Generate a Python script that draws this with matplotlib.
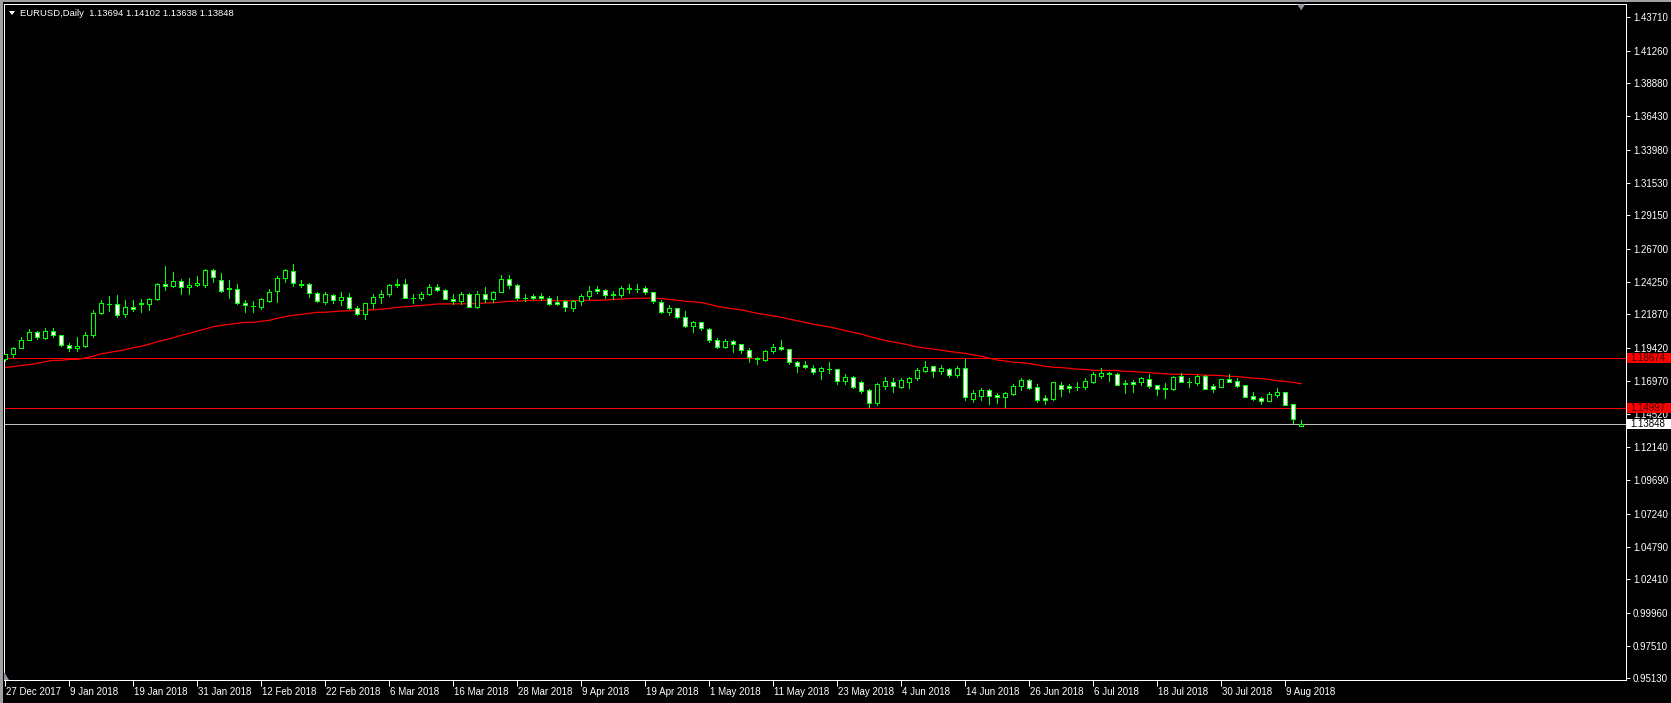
import matplotlib
matplotlib.use("Agg")
import matplotlib.pyplot as plt
import matplotlib.transforms as mtransforms
from matplotlib.patches import Rectangle, Polygon

# EURUSD daily, 27 Dec 2017 .. 13 Aug 2018 (163 bars)
opens = [1.1857, 1.1893, 1.1944, 1.2002, 1.2056, 1.2016, 1.2068, 1.2034, 1.1966, 1.1938,
         1.1954, 1.2034, 1.2195, 1.2262, 1.2262, 1.2188, 1.2240, 1.2264, 1.2262, 1.2298,
         1.2408, 1.2393, 1.2433, 1.2386, 1.2401, 1.2406, 1.2514, 1.2440, 1.2372, 1.2374,
         1.2269, 1.2250, 1.2244, 1.2288, 1.2357, 1.2455, 1.2504, 1.2408, 1.2408, 1.2342,
         1.2281, 1.2328, 1.2294, 1.2318, 1.2234, 1.2192, 1.2268, 1.2317, 1.2337, 1.2404,
         1.2411, 1.2311, 1.2307, 1.2335, 1.2388, 1.2368, 1.2302, 1.2288, 1.2336, 1.2244,
         1.2339, 1.2300, 1.2355, 1.2447, 1.2405, 1.2306, 1.2325, 1.2320, 1.2306, 1.2280,
         1.2283, 1.2237, 1.2283, 1.2320, 1.2371, 1.2364, 1.2332, 1.2327, 1.2375, 1.2377,
         1.2379, 1.2349, 1.2276, 1.2207, 1.2232, 1.2166, 1.2105, 1.2129, 1.2078, 1.1997,
         1.1950, 1.1989, 1.1967, 1.1923, 1.1866, 1.1850, 1.1918, 1.1945, 1.1931, 1.1840,
         1.1813, 1.1796, 1.1771, 1.1788, 1.1784, 1.1700, 1.1725, 1.1688, 1.1632, 1.1539,
         1.1664, 1.1688, 1.1656, 1.1693, 1.1718, 1.1774, 1.1806, 1.1774, 1.1784, 1.1742,
         1.1791, 1.1566, 1.1590, 1.1630, 1.1593, 1.1578, 1.1605, 1.1661, 1.1705, 1.1651,
         1.1573, 1.1563, 1.1666, 1.1661, 1.1655, 1.1656, 1.1693, 1.1737, 1.1753, 1.1749,
         1.1678, 1.1691, 1.1691, 1.1710, 1.1666, 1.1641, 1.1639, 1.1732, 1.1689, 1.1686,
         1.1735, 1.1659, 1.1656, 1.1710, 1.1695, 1.1666, 1.1585, 1.1571, 1.1553, 1.1595,
         1.1617, 1.1529, 1.13694]
highs = [1.1895, 1.1950, 1.2023, 1.2081, 1.2065, 1.2089, 1.2085, 1.2038, 1.1980, 1.2025,
         1.2058, 1.2219, 1.2296, 1.2323, 1.2330, 1.2292, 1.2296, 1.2298, 1.2306, 1.2416,
         1.2541, 1.2501, 1.2447, 1.2453, 1.2472, 1.2522, 1.2520, 1.2495, 1.2439, 1.2411,
         1.2296, 1.2284, 1.2309, 1.2371, 1.2468, 1.2520, 1.2558, 1.2437, 1.2415, 1.2355,
         1.2353, 1.2337, 1.2355, 1.2345, 1.2246, 1.2273, 1.2335, 1.2364, 1.2413, 1.2446,
         1.2446, 1.2335, 1.2351, 1.2409, 1.2413, 1.2377, 1.2336, 1.2354, 1.2348, 1.2357,
         1.2388, 1.2360, 1.2477, 1.2476, 1.2413, 1.2336, 1.2336, 1.2345, 1.2323, 1.2323,
         1.2290, 1.2295, 1.2337, 1.2396, 1.2396, 1.2374, 1.2361, 1.2396, 1.2408, 1.2414,
         1.2396, 1.2353, 1.2296, 1.2255, 1.2238, 1.2211, 1.2138, 1.2132, 1.2085, 1.2013,
         1.2009, 1.1997, 1.1972, 1.1937, 1.1876, 1.1929, 1.1970, 1.1996, 1.1935, 1.1848,
         1.1845, 1.1817, 1.1798, 1.1836, 1.1787, 1.1750, 1.1733, 1.1696, 1.1639, 1.1680,
         1.1724, 1.1720, 1.1719, 1.1725, 1.1797, 1.1845, 1.1810, 1.1813, 1.1797, 1.1808,
         1.1860, 1.1632, 1.1645, 1.1640, 1.1612, 1.1620, 1.1674, 1.1718, 1.1711, 1.1676,
         1.1597, 1.1692, 1.1690, 1.1673, 1.1690, 1.1720, 1.1765, 1.1791, 1.1767, 1.1757,
         1.1705, 1.1705, 1.1730, 1.1749, 1.1672, 1.1686, 1.1735, 1.1754, 1.1718, 1.1739,
         1.1745, 1.1674, 1.1716, 1.1747, 1.1717, 1.1670, 1.1620, 1.1580, 1.1617, 1.1643,
         1.1619, 1.1530, 1.14102]
lows = [1.1846, 1.1878, 1.1940, 1.1998, 1.2003, 1.2005, 1.2022, 1.1956, 1.1915, 1.1917,
        1.1949, 1.2018, 1.2194, 1.2213, 1.2166, 1.2165, 1.2212, 1.2207, 1.2222, 1.2292,
        1.2365, 1.2391, 1.2338, 1.2337, 1.2395, 1.2392, 1.2424, 1.2355, 1.2309, 1.2261,
        1.2206, 1.2205, 1.2230, 1.2277, 1.2277, 1.2426, 1.2395, 1.2387, 1.2318, 1.2281,
        1.2261, 1.2270, 1.2258, 1.2228, 1.2184, 1.2154, 1.2236, 1.2274, 1.2322, 1.2387,
        1.2306, 1.2274, 1.2290, 1.2327, 1.2360, 1.2300, 1.2261, 1.2262, 1.2240, 1.2238,
        1.2279, 1.2281, 1.2350, 1.2385, 1.2295, 1.2284, 1.2300, 1.2291, 1.2257, 1.2255,
        1.2214, 1.2215, 1.2260, 1.2301, 1.2346, 1.2310, 1.2304, 1.2316, 1.2346, 1.2353,
        1.2338, 1.2274, 1.2199, 1.2184, 1.2161, 1.2097, 1.2055, 1.2072, 1.1984, 1.1938,
        1.1940, 1.1911, 1.1904, 1.1838, 1.1823, 1.1845, 1.1901, 1.1923, 1.1821, 1.1763,
        1.1791, 1.1749, 1.1713, 1.1760, 1.1676, 1.1676, 1.1646, 1.1610, 1.1509, 1.1518,
        1.1640, 1.1616, 1.1644, 1.1644, 1.1704, 1.1765, 1.1728, 1.1749, 1.1730, 1.1726,
        1.1562, 1.1542, 1.1560, 1.1530, 1.1536, 1.1508, 1.1594, 1.1633, 1.1638, 1.1541,
        1.1527, 1.1559, 1.1591, 1.1616, 1.1630, 1.1640, 1.1680, 1.1722, 1.1700, 1.1665,
        1.1612, 1.1616, 1.1670, 1.1649, 1.1595, 1.1575, 1.1632, 1.1688, 1.1657, 1.1670,
        1.1637, 1.1620, 1.1653, 1.1688, 1.1653, 1.1577, 1.1555, 1.1530, 1.1548, 1.1582,
        1.1524, 1.1388, 1.13638]
closes = [1.1893, 1.1944, 1.1997, 1.2061, 1.2019, 1.2068, 1.2034, 1.1966, 1.1938, 1.1954,
          1.2034, 1.2195, 1.2268, 1.2264, 1.2181, 1.2240, 1.2225, 1.2268, 1.2298, 1.2408,
          1.2394, 1.2433, 1.2386, 1.2401, 1.2418, 1.2514, 1.2460, 1.2362, 1.2378, 1.2269,
          1.2254, 1.2246, 1.2298, 1.2352, 1.2452, 1.2511, 1.2416, 1.2404, 1.2342, 1.2288,
          1.2335, 1.2294, 1.2318, 1.2234, 1.2192, 1.2268, 1.2317, 1.2337, 1.2404, 1.2411,
          1.2311, 1.2307, 1.2335, 1.2388, 1.2368, 1.2302, 1.2288, 1.2336, 1.2244, 1.2339,
          1.2300, 1.2355, 1.2447, 1.2405, 1.2306, 1.2310, 1.2306, 1.2306, 1.2266, 1.2267,
          1.2242, 1.2283, 1.2320, 1.2357, 1.2358, 1.2327, 1.2335, 1.2379, 1.2378, 1.2375,
          1.2350, 1.2288, 1.2207, 1.2232, 1.2166, 1.2105, 1.2129, 1.2085, 1.1997, 1.1950,
          1.1989, 1.1967, 1.1923, 1.1872, 1.1860, 1.1918, 1.1945, 1.1931, 1.1840, 1.1810,
          1.1798, 1.1766, 1.1791, 1.1785, 1.1700, 1.1725, 1.1651, 1.1627, 1.1539, 1.1673,
          1.1700, 1.1664, 1.1703, 1.1720, 1.1779, 1.1798, 1.1771, 1.1791, 1.1742, 1.1791,
          1.1578, 1.1612, 1.1630, 1.1590, 1.1578, 1.1610, 1.1661, 1.1705, 1.1650, 1.1558,
          1.1555, 1.1690, 1.1641, 1.1644, 1.1657, 1.1698, 1.1749, 1.1757, 1.1755, 1.1668,
          1.1682, 1.1673, 1.1722, 1.1661, 1.1641, 1.1643, 1.1725, 1.1693, 1.1691, 1.1735,
          1.1642, 1.1642, 1.1713, 1.1693, 1.1664, 1.1583, 1.1568, 1.1553, 1.1602, 1.1619,
          1.1525, 1.1416, 1.13848]
# moving average as drawn on the chart
ma = [1.1798, 1.1803, 1.1813, 1.1818, 1.1828, 1.1840, 1.1850, 1.1850, 1.1857, 1.1857,
      1.1867, 1.1881, 1.1898, 1.1908, 1.1918, 1.1928, 1.1943, 1.1953, 1.1968, 1.1987,
      1.2000, 1.2016, 1.2034, 1.2048, 1.2065, 1.2080, 1.2097, 1.2107, 1.2115, 1.2122,
      1.2129, 1.2129, 1.2137, 1.2144, 1.2159, 1.2171, 1.2181, 1.2188, 1.2195, 1.2203,
      1.2203, 1.2208, 1.2212, 1.2214, 1.2215, 1.2218, 1.2221, 1.2226, 1.2231, 1.2239,
      1.2244, 1.2249, 1.2253, 1.2258, 1.2264, 1.2264, 1.2265, 1.2265, 1.2266, 1.2268,
      1.2271, 1.2274, 1.2278, 1.2284, 1.2285, 1.2288, 1.2291, 1.2291, 1.2290, 1.2288,
      1.2287, 1.2288, 1.2290, 1.2291, 1.2291, 1.2293, 1.2298, 1.2300, 1.2304, 1.2306,
      1.2306, 1.2306, 1.2304, 1.2298, 1.2291, 1.2284, 1.2280, 1.2274, 1.2262, 1.2247,
      1.2236, 1.2228, 1.2221, 1.2208, 1.2195, 1.2186, 1.2177, 1.2166, 1.2153, 1.2140,
      1.2128, 1.2116, 1.2105, 1.2095, 1.2083, 1.2068, 1.2055, 1.2044, 1.2025, 1.2010,
      1.1995, 1.1985, 1.1974, 1.1962, 1.1948, 1.1940, 1.1933, 1.1925, 1.1915, 1.1908,
      1.1901, 1.1890, 1.1880, 1.1866, 1.1852, 1.1845, 1.1836, 1.1833, 1.1826, 1.1816,
      1.1806, 1.1799, 1.1797, 1.1791, 1.1785, 1.1783, 1.1776, 1.1776, 1.1776, 1.1775,
      1.1769, 1.1768, 1.1762, 1.1760, 1.1754, 1.1752, 1.1747, 1.1747, 1.1747, 1.1745,
      1.1740, 1.1740, 1.1738, 1.1732, 1.1731, 1.1725, 1.1719, 1.1716, 1.1710, 1.1700,
      1.1695, 1.1688, 1.1678]

date_labels = ["27 Dec 2017", "9 Jan 2018", "19 Jan 2018", "31 Jan 2018", "12 Feb 2018",
               "22 Feb 2018", "6 Mar 2018", "16 Mar 2018", "28 Mar 2018", "9 Apr 2018",
               "19 Apr 2018", "1 May 2018", "11 May 2018", "23 May 2018", "4 Jun 2018",
               "14 Jun 2018", "26 Jun 2018", "6 Jul 2018", "18 Jul 2018", "30 Jul 2018",
               "9 Aug 2018"]
price_labels = ["1.43710", "1.41260", "1.38880", "1.36430", "1.33980", "1.31530", "1.29150",
                "1.26700", "1.24250", "1.21870", "1.19420", "1.16970", "1.14520", "1.12140",
                "1.09690", "1.07240", "1.04790", "1.02410", "0.99960", "0.97510", "0.95130"]
level_lines = [1.18674, 1.14997]
bid = 1.13848

W, H = 1671, 703
lime = "#00ff00"
px = 0.72  # one pixel in points
plt.rcParams["font.family"] = ["Liberation Sans", "DejaVu Sans"]

fig = plt.figure(figsize=(W / 100, H / 100), dpi=100, facecolor="black")
ax = fig.add_axes([4 / W, 23 / H, 1622 / W, 675.7 / H], facecolor="black")
ax.set_xlim(-0.16, 202.6)
ax.set_ylim(0.95005, 1.44665)

n = len(closes)
idx = list(range(n))

# candles
ax.vlines(idx, lows, highs, color=lime, lw=px, zorder=3, antialiased=False)
bottoms = [min(o, c) for o, c in zip(opens, closes)]
heights = [abs(c - o) for o, c in zip(opens, closes)]
faces = ["white" if c < o else "black" for o, c in zip(opens, closes)]
ax.bar(idx, heights, width=0.5, bottom=bottoms, color=faces, edgecolor=lime,
       linewidth=px, zorder=4, antialiased=False)

# moving average + levels
ax.plot(idx, ma, color="red", lw=0.9, zorder=2)
for lv in level_lines:
    ax.axhline(lv, color="red", lw=px, zorder=2)
ax.axhline(bid, color="#c0c0c0", lw=px, zorder=2)

for s in ax.spines.values():
    s.set_color("white")
    s.set_linewidth(px)

# price axis on the right
ax.yaxis.tick_right()
ax.set_yticks([float(v) for v in price_labels])
ax.set_yticklabels(price_labels)
ax.tick_params(axis="y", colors="white", length=3, width=px, pad=2, labelsize=7)

# date axis
ax.set_xticks(list(range(0, 8 * len(date_labels), 8)))
ax.set_xticklabels(date_labels)
ax.tick_params(axis="x", colors="white", length=4, width=px, pad=1, labelsize=7)
shift = mtransforms.ScaledTranslation(1 / 100, 0, fig.dpi_scale_trans)
for lbl in ax.get_xticklabels():
    lbl.set_ha("left")
    lbl.set_transform(lbl.get_transform() + shift)

# coloured price tags on the axis
blend = mtransforms.blended_transform_factory(ax.transAxes, ax.transData)
k = (1.44665 - 0.95005) / 675.7
tags = [(level_lines[0], "red", "#400000"), (level_lines[1], "red", "#400000"), (bid, "white", "black")]
for val, fc, tc in tags:
    ax.add_patch(Rectangle((1 + 1 / 1622, val - 5 * k), 44 / 1622, 10 * k, transform=blend,
                           facecolor=fc, edgecolor="none", clip_on=False, zorder=10))
    ax.text(1 + 4 / 1622, val, f"{val:.5f}", transform=blend, color=tc, fontsize=7,
            va="center", ha="left", zorder=11, clip_on=False)

# chart shift marker at last bar, small corner marker bottom-left
mark = mtransforms.blended_transform_factory(ax.transData, ax.transAxes)
ax.add_patch(Polygon([(n - 1 - 0.5, 1.0), (n - 1 + 0.5, 1.0), (n - 1, 1 - 6 / 675.7)],
                     closed=True, transform=mark, facecolor="#8c96a0", edgecolor="none",
                     clip_on=False, zorder=10))
ax.add_patch(Polygon([(0, 0), (0, 8 / 675.7), (5 / 1622, 0)], closed=True,
                     transform=ax.transAxes, facecolor="#8c96a0", edgecolor="none",
                     clip_on=False, zorder=10))

# window frame and header
fig.patches.append(Rectangle((0, 0), 3 / W, 1, transform=fig.transFigure,
                             facecolor="#a0a0a0", edgecolor="none"))
fig.patches.append(Rectangle((0, 1 - 2 / H), 1, 2 / H, transform=fig.transFigure,
                             facecolor="#a0a0a0", edgecolor="none"))
fig.patches.append(Polygon([(9 / W, 1 - 11 / H), (15 / W, 1 - 11 / H), (12 / W, 1 - 15 / H)],
                           closed=True, transform=fig.transFigure, facecolor="white",
                           edgecolor="none"))
fig.text(20 / W, 1 - 13 / H, "EURUSD,Daily  1.13694 1.14102 1.13638 1.13848",
         color="white", fontsize=6.8, va="center", ha="left")

fig.savefig("out.png", dpi=100, facecolor="black")
